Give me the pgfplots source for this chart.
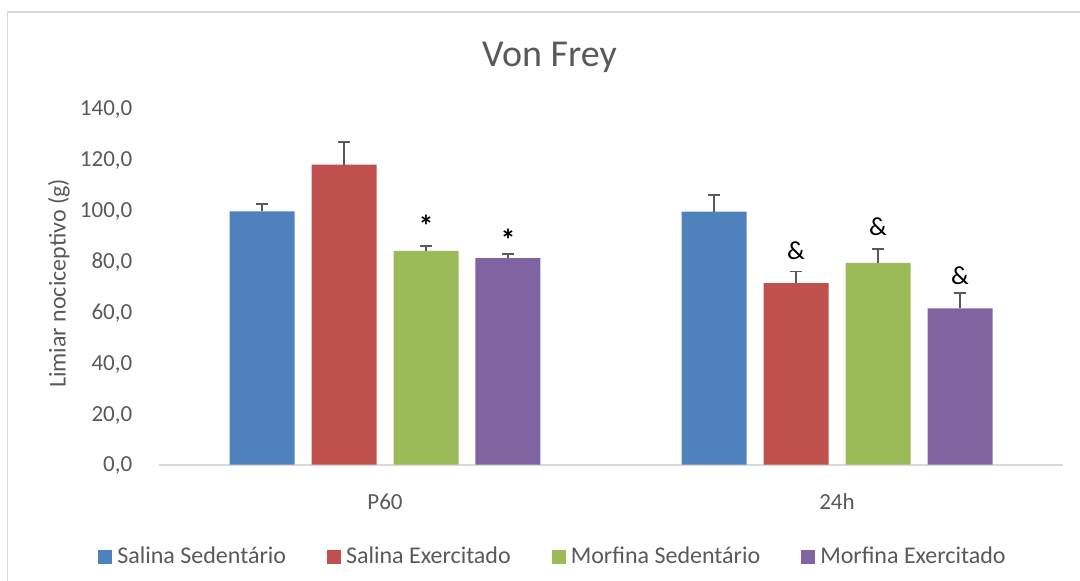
\documentclass[border=0pt]{standalone}
\usepackage{fontspec}
\setmainfont{Carlito}
\usepackage{pgfplots}
\usepackage{pgfplotstable}
\pgfplotsset{compat=1.18}
\definecolor{cblue}{HTML}{4F81BD}
\definecolor{cred}{HTML}{C0504D}
\definecolor{cgreen}{HTML}{9BBB59}
\definecolor{cpurple}{HTML}{8064A2}
\definecolor{textgray}{HTML}{595959}
\definecolor{axisgray}{HTML}{D9D9D9}
\definecolor{errgray}{HTML}{595959}

\pgfplotstableread{
x y e
0 99.6 3.0
1 99.5 6.6
}\tabSS
\pgfplotstableread{
x y e
0 118.0 9.0
1 71.4 4.5
}\tabSE
\pgfplotstableread{
x y e
0 84.1 2.0
1 79.4 5.5
}\tabMS
\pgfplotstableread{
x y e
0 81.2 1.7
1 61.5 6.1
}\tabME

\begin{document}
\begin{tikzpicture}
\draw[color=axisgray, line width=0.8pt] (3.75pt,0pt) -- (3.75pt,284.5pt) -- (540pt,284.5pt);
\node[anchor=base, font=\fontsize{19}{22}\selectfont, text=textgray] at (274.75pt,257.15pt) {Von Frey};
\node[anchor=center, rotate=90, font=\fontsize{12}{14}\selectfont, text=textgray]
  at (29.5pt,148.85pt) {Limiar nociceptivo (g)};
\begin{axis}[
  at={(79.5pt,58.15pt)}, anchor=south west,
  scale only axis, width=452pt, height=178pt,
  xmin=-0.5, xmax=1.5, ymin=0, ymax=140,
  axis x line*=bottom, axis y line*=left,
  y axis line style={draw=none},
  x axis line style={draw=axisgray, line width=1pt},
  major tick length=0pt,
  xtick={0,1}, xticklabels={P60,24h},
  ytick={0,20,...,140},
  tick label style={font=\fontsize{11.5}{13.8}\selectfont, text=textgray},
  yticklabel style={anchor=base east, inner sep=0pt, xshift=-13.15pt, yshift=-3.65pt,
    /pgf/number format/.cd, fixed, fixed zerofill, precision=1, use comma, assume math mode=true},
  xticklabel style={anchor=base, inner sep=0pt, yshift=-22.4pt},
  clip=false,
  ybar, bar width=0.1438,
  legend columns=4,
  legend image code/.code={\fill[#1] (0pt,-3.5pt) rectangle (7pt,3.5pt);},
  legend style={at={(0.4375,-0.259)}, anchor=center, draw=none, fill=none,
    font=\fontsize{12}{14}\selectfont, text=textgray,
    nodes={inner xsep=2.5pt, inner ysep=0pt},
    /tikz/every even column/.append style={column sep=18pt}},
  error bars/y dir=plus, error bars/y explicit,
  error bars/error bar style={line width=0.8pt, color=errgray},
  error bars/error mark options={rotate=90, mark size=3.2pt, line width=0.8pt, color=errgray},
]
\addplot[fill=cblue, draw=none, bar shift=-0.2721] table[x=x, y=y, y error=e] {\tabSS};
\addlegendentry{Salina Sedentário}
\addplot[fill=cred, draw=none, bar shift=-0.0907] table[x=x, y=y, y error=e] {\tabSE};
\addlegendentry{Salina Exercitado}
\addplot[fill=cgreen, draw=none, bar shift=0.0907] table[x=x, y=y, y error=e] {\tabMS};
\addlegendentry{Morfina Sedentário}
\addplot[fill=cpurple, draw=none, bar shift=0.2721] table[x=x, y=y, y error=e] {\tabME};
\addlegendentry{Morfina Exercitado}
\node[anchor=base, font=\fontsize{15}{17}\selectfont\bfseries] at (axis cs:0.0907,89.6) {*};
\node[anchor=base, font=\fontsize{15}{17}\selectfont\bfseries] at (axis cs:0.2721,84.3) {*};
\node[anchor=base, font=\fontsize{13}{15}\selectfont] at (axis cs:0.9093,80.5) {\&};
\node[anchor=base, font=\fontsize{13}{15}\selectfont] at (axis cs:1.0907,90.3) {\&};
\node[anchor=base, font=\fontsize{13}{15}\selectfont] at (axis cs:1.2721,70.9) {\&};
\end{axis}
\pgfresetboundingbox
\path[use as bounding box] (0pt,0pt) rectangle (540pt,290.5pt);
\end{tikzpicture}
\end{document}
